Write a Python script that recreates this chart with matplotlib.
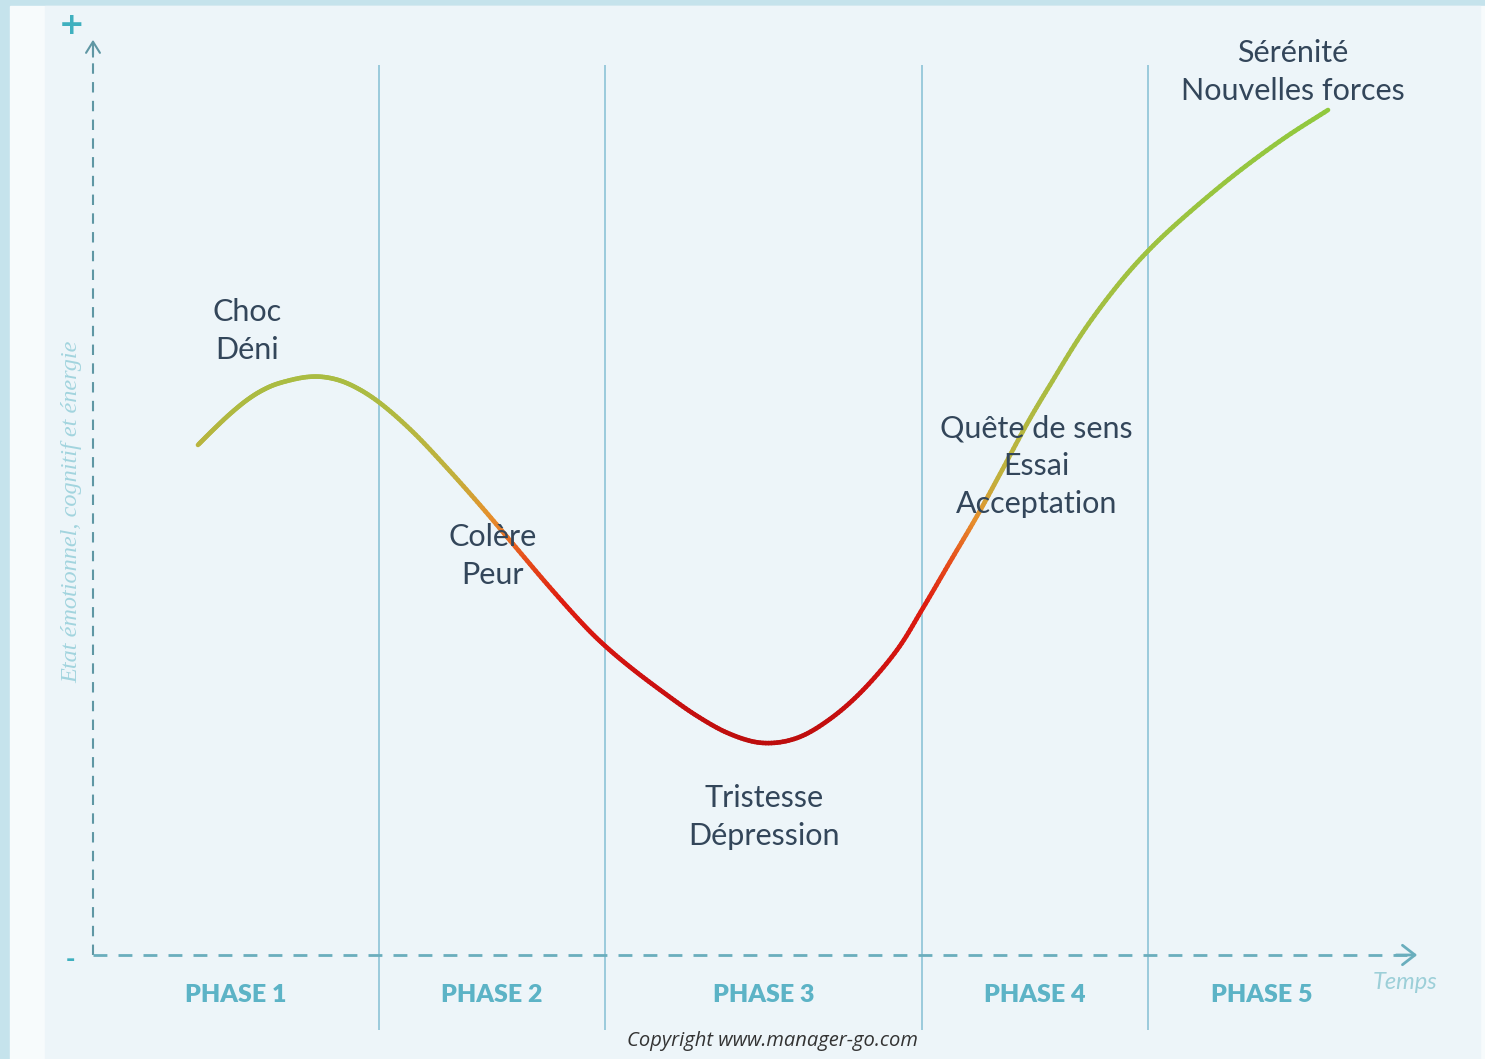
import numpy as np
import matplotlib
matplotlib.use("Agg")
from matplotlib import pyplot as plt
from matplotlib.collections import LineCollection
from matplotlib.colors import LinearSegmentedColormap, Normalize
from matplotlib.patches import Rectangle

# Curve: time (x) and emotional/energy level (y)
curve_t = [0.791, 0.904, 1.032, 1.161, 1.281, 1.409, 1.613, 1.786, 1.960, 2.163,
           2.411, 2.668, 2.916, 3.165, 3.421, 3.670, 3.843, 4.047, 4.295, 4.552,
           4.800, 5.049, 5.305, 5.554, 5.803, 6.059, 6.255, 6.458, 6.662, 6.835,
           7.038, 7.212, 7.460, 7.717, 7.950, 8.214, 8.591, 8.968, 9.307]
curve_level = [56.67, 58.33, 60.11, 61.67, 62.78, 63.56, 64.22, 64.11, 63.22, 61.33,
               58.11, 54.11, 50.00, 45.67, 41.22, 37.11, 34.56, 32.00, 29.22, 26.56,
               24.56, 23.56, 24.11, 26.22, 29.44, 33.89, 38.56, 43.67, 48.78, 53.44,
               59.00, 63.33, 69.22, 74.33, 78.22, 81.89, 86.56, 90.67, 93.89]

phase_bounds = [0.0, 2.155, 3.858, 6.247, 7.95, 9.67]
phase_names = ["PHASE 1", "PHASE 2", "PHASE 3", "PHASE 4", "PHASE 5"]

stage_labels = ["Choc\nDéni", "Colère\nPeur", "Tristesse\nDépression",
                "Quête de sens\nEssai\nAcceptation", "Sérénité\nNouvelles forces"]
stage_t = [1.16, 3.01, 5.06, 7.11, 9.04]
stage_level = [69.3, 44.3, 15.3, 54.3, 98.1]

axis_col = "#6aaebd"
text_col = "#33465a"

fig = plt.figure(figsize=(14.85, 10.59), dpi=100, facecolor="#c5e3ec")
fig.patches.append(Rectangle((10 / 1485, 0), 1, 1 - 6 / 1059, transform=fig.transFigure,
                             color="#f7fbfc", zorder=-2))
fig.patches.append(Rectangle((45 / 1485, 0), 1435 / 1485, 1 - 6 / 1059, transform=fig.transFigure,
                             color="#edf5f9", zorder=-1))

ax = fig.add_axes([0, 0, 1, 1])
ax.set_xlim(-0.7008, 10.490)
ax.set_ylim(-11.556, 106.11)
ax.axis("off")
ax.patch.set_alpha(0)

# phase separators
ax.vlines(phase_bounds[1:5], -8.3, 98.9, color="#94c7d9", lw=1.3, zorder=1)
for i, name in enumerate(phase_names):
    mid = (phase_bounds[i] + phase_bounds[i + 1]) / 2
    ax.text(mid, -4.4, name, ha="center", va="center", fontsize=18, fontweight="heavy",
            color="#5cb3c6", family="Lato")

# axes with arrows
ax.plot([0, 0], [0, 100.8], ls=(0, (5, 4)), color="#5f97a4", lw=1.5, zorder=2)
ax.plot([0, 9.9], [0, 0], ls=(0, (5, 4)), color=axis_col, lw=2, zorder=2)
ax.annotate("", xy=(0, 102.0), xytext=(0, 99.5),
            arrowprops=dict(arrowstyle="->,head_length=0.8,head_width=0.5", color="#5f97a4", lw=1.5))
ax.annotate("", xy=(10.0, 0), xytext=(9.8, 0),
            arrowprops=dict(arrowstyle="->,head_length=0.9,head_width=0.7", color=axis_col, lw=2))
ax.text(-0.158, 103.3, "+", ha="center", va="center", fontsize=22, fontweight="bold",
        color="#3fb0bf", family="DejaVu Sans")
ax.text(-0.173, -0.56, "-", ha="center", va="center", fontsize=16, fontweight="bold",
        color="#3fb0bf", family="DejaVu Sans")

ax.text(-0.158, 49.2, "Etat émotionnel, cognitif et énergie", rotation=90, ha="center",
        va="center", fontsize=17.5, style="italic", color="#a2d4de", family="Liberation Serif")
ax.text(9.887, -3.1, "Temps", ha="center", va="center", fontsize=17, style="italic",
        color="#9ccfd8", family="Lato")
ax.text(5.117, -9.56, "Copyright www.manager-go.com", ha="center", va="center", fontsize=14.5,
        style="italic", color="#333333", family="Open Sans")

# smooth rendering of the read points (Catmull-Rom), coloured by level
pts = np.column_stack([curve_t, curve_level])
padded = np.vstack([2 * pts[0] - pts[1], pts, 2 * pts[-1] - pts[-2]])
fine = []
for i in range(1, len(padded) - 2):
    p0, p1, p2, p3 = padded[i - 1], padded[i], padded[i + 1], padded[i + 2]
    for s in np.linspace(0, 1, 12, endpoint=False):
        fine.append(0.5 * (2 * p1 + (p2 - p0) * s + (2 * p0 - 5 * p1 + 4 * p2 - p3) * s ** 2
                           + (3 * p1 - p0 - 3 * p2 + p3) * s ** 3))
fine.append(pts[-1])
fine = np.array(fine)
segs = np.stack([fine[:-1], fine[1:]], axis=1)
mid_level = segs[:, :, 1].mean(axis=1)

lo, hi = 20, 95
stops = [(20, "#b50c0c"), (30, "#cc1010"), (39, "#de1c10"), (44, "#e6501c"),
         (48.5, "#e6902c"), (53, "#c2b03c"), (62, "#acbb42"), (95, "#90c93e")]
cmap = LinearSegmentedColormap.from_list("mood", [((v - lo) / (hi - lo), c) for v, c in stops])
lc = LineCollection(segs, colors=cmap(Normalize(lo, hi)(mid_level)), linewidth=3.3,
                    capstyle="round", zorder=3)
ax.add_collection(lc)

for lab, t, lv in zip(stage_labels, stage_t, stage_level):
    ax.text(t, lv, lab, ha="center", va="center", fontsize=22, color=text_col,
            family="Lato", linespacing=1.42, zorder=4)

fig.savefig("out.png", dpi=100, facecolor=fig.get_facecolor())
